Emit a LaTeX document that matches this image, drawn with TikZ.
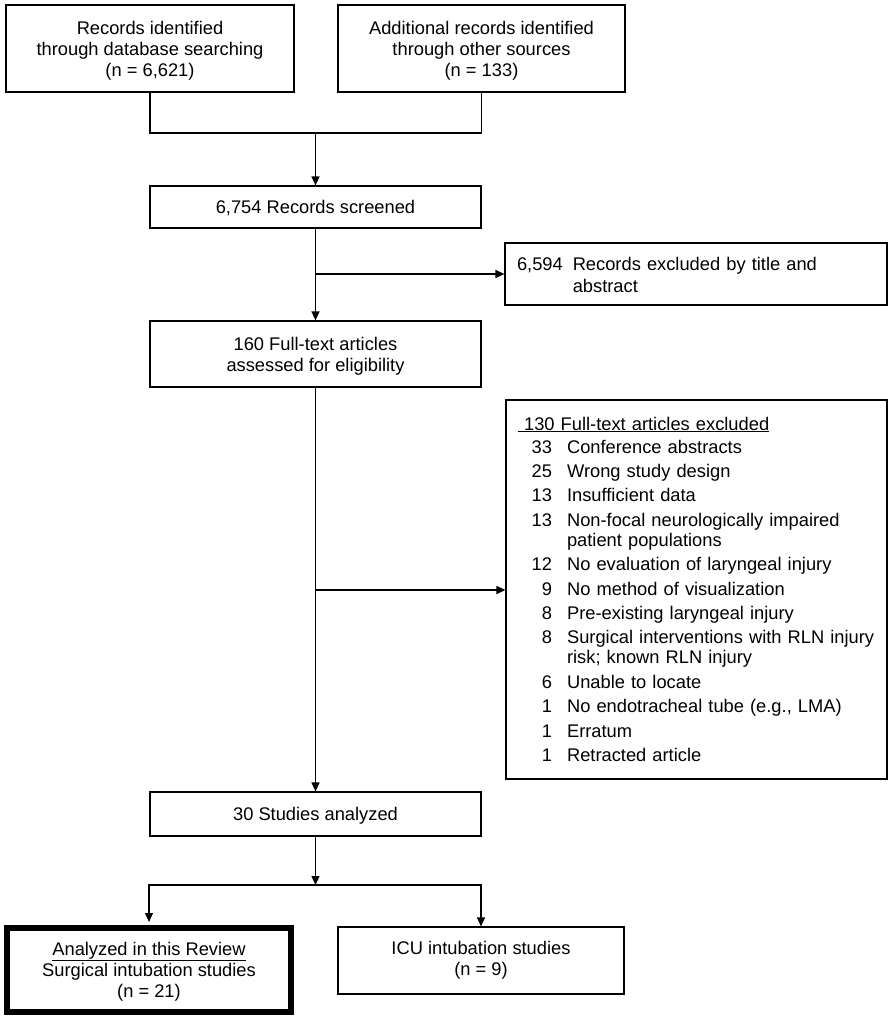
\documentclass[tikz,border=0pt]{standalone}
\usepackage{fontspec}
\setmainfont{Liberation Sans}
\usetikzlibrary{arrows.meta}
\newcommand\topst[1]{\rule{0pt}{#1}}
\newcommand\botst{\rule[-4pt]{0pt}{4pt}}
\tikzset{
  every node/.style={font=\fontsize{18.3}{21}\selectfont},
  box/.style={draw, line width=1.2pt, inner sep=0pt, align=center},
  oneline/.style={text height=15pt, text depth=2pt},
  ln/.style={line width=1.2pt},
  arr/.style={line width=1.2pt, -{Triangle[length=9pt,width=8pt]}}
}
\begin{document}
\begin{tikzpicture}[x=1pt,y=-1pt]
\useasboundingbox (0,0) rectangle (892,1020);
% boxes
\node[box, minimum width=288pt, minimum height=87pt] (db) at (150,48.5)
  {\topst{17pt}Records identified\\through database searching\\(n = 6,621)\botst};
\node[box, minimum width=287pt, minimum height=87pt] (other) at (481.5,48.5)
  {\topst{17pt}Additional records identified\\through other sources\\(n = 133)\botst};
\node[box, oneline, minimum width=331pt, minimum height=42pt] (screened) at (315.5,207)
  {6,754 Records screened};
\node[box, align=left, text width=358pt, inner xsep=12pt, minimum height=62pt] (excl1) at (696,274)
  {\noindent\fontsize{18.3}{22}\selectfont\begin{tabular}{@{}l@{\hspace{10pt}}l@{}}\rule{0pt}{20.6pt}6,594 & Records excluded by title and\\ & abstract\end{tabular}};
\node[box, minimum width=331pt, minimum height=66pt] (full) at (315.5,354)
  {\topst{17pt}160 Full-text articles\\assessed for eligibility\botst};
\node[box, align=left, text width=357pt, inner xsep=12pt, minimum height=379pt] (excl2) at (696.5,589.5)
  {\noindent\fontsize{18.3}{20}\selectfont\begin{tabular}{@{\hspace{13.7pt}}r@{\hspace{15pt}}l@{}}
\multicolumn{2}{@{}l@{}}{\rule{0pt}{18.4pt}\underline{\ 130 Full-text articles excluded}}\\[3pt]
33 & Conference abstracts\\[4.4pt]
25 & Wrong study design\\[4.4pt]
13 & Insufficient data\\[4.4pt]
13 & Non-focal neurologically impaired\\
   & patient populations\\[4.4pt]
12 & No evaluation of laryngeal injury\\[4.4pt]
9 & No method of visualization\\[4.4pt]
8 & Pre-existing laryngeal injury\\[4.4pt]
8 & Surgical interventions with RLN injury\\
  & risk; known RLN injury\\[4.4pt]
6 & Unable to locate\\[4.4pt]
1 & No endotracheal tube (e.g., LMA)\\[4.4pt]
1 & Erratum\\[4.4pt]
1 & Retracted article
\end{tabular}};
\node[box, oneline, minimum width=331pt, minimum height=44pt] (studies) at (315.5,814)
  {30 Studies analyzed};
\node[box, line width=6pt, minimum width=284pt, minimum height=84pt] (incl) at (149,970)
  {\topst{16pt}\underline{Analyzed in this Review}\\Surgical intubation studies\\(n = 21)\botst};
\node[box, minimum width=286pt, minimum height=67pt] (icu) at (481,960.5)
  {ICU intubation studies\\(n = 9)};
% junctions
\coordinate (j1) at (315.5,133);
\coordinate (b1) at (315.5,274);
\coordinate (b2) at (315.5,590);
\coordinate (j2) at (315.5,885);
% connectors
\draw[ln] (db.south) |- (j1) -| (other.south);
\draw[arr] (j1) -- (screened.north);
\draw[arr] (screened.south) -- (full.north);
\draw[arr] (b1) -- (b1 -| excl1.west);
\draw[arr] (full.south) -- (studies.north);
\draw[arr] (b2) -- (b2 -| excl2.west);
\draw[arr] (studies.south) -- (j2);
\draw[arr, shorten >=3pt] (j2) -| (incl.north);
\draw[arr] (j2) -| (icu.north);
\end{tikzpicture}
\end{document}
